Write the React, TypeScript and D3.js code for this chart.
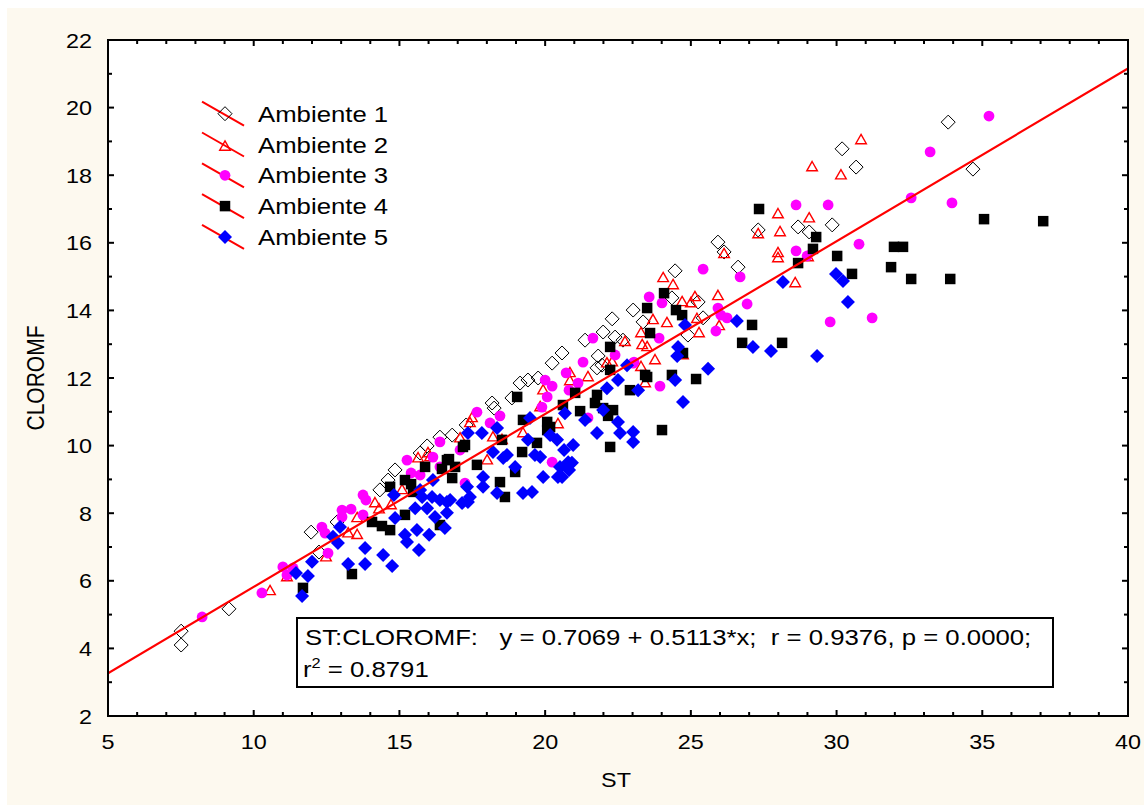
import React from "react";
import * as d3 from "d3";

const xTicks = [5, 10, 15, 20, 25, 30, 35, 40];
const yTicks = [2, 4, 6, 8, 10, 12, 14, 16, 18, 20, 22];
const legendLabels = ["Ambiente 1", "Ambiente 2", "Ambiente 3", "Ambiente 4", "Ambiente 5"];
const intercept = 0.7069;
const slope = 0.5113;

const ambiente1: [number, number][] = [
  [7.51, 4.51], [7.51, 4.1], [9.15, 5.17], [11.97, 7.44], [12.24, 6.85], [12.86, 7.74], [14.33, 8.69],
  [14.61, 8.98], [14.85, 9.28], [15.71, 9.78], [15.95, 9.99], [16.39, 10.25], [16.81, 10.31], [17.29, 10.61],
  [18.18, 11.26], [18.25, 11.11], [18.86, 11.41], [19.14, 11.85], [19.41, 11.94], [19.76, 12.0], [20.24, 12.44],
  [20.58, 12.74], [21.37, 13.12], [21.78, 12.3], [21.95, 12.38], [22.4, 13.21], [21.82, 12.65], [22.3, 13.75],
  [21.99, 13.36], [23.02, 14.01], [23.36, 13.66], [24.35, 14.37], [24.46, 15.17], [25.25, 14.25], [25.42, 13.78],
  [24.9, 13.27], [22.67, 13.12], [25.93, 16.02], [26.14, 15.73], [26.62, 15.28], [27.31, 16.38], [28.68, 16.47],
  [29.06, 16.32], [29.85, 16.53], [30.19, 18.78], [30.67, 18.24], [33.83, 19.57], [34.68, 18.18],
];

const ambiente2: [number, number][] = [
  [10.56, 5.7], [11.14, 6.11], [12.48, 6.7], [13.24, 7.41], [13.55, 7.36], [13.55, 7.86], [14.16, 8.3],
  [14.3, 8.12], [14.71, 8.24], [15.09, 8.69], [15.64, 9.63], [15.98, 9.78], [16.05, 9.66], [17.08, 10.22],
  [17.49, 10.82], [17.42, 10.67], [18.01, 9.57], [18.21, 10.25], [18.52, 10.17], [19.24, 10.37], [19.83, 11.14],
  [19.93, 11.64], [20.44, 10.64], [20.85, 12.15], [20.85, 11.91], [21.47, 12.03], [22.12, 12.44], [22.3, 12.47],
  [22.74, 13.07], [23.29, 13.33], [23.33, 12.98], [23.29, 12.33], [23.5, 12.92], [23.77, 12.53], [23.7, 13.72],
  [24.18, 13.63], [24.05, 14.96], [24.39, 14.75], [24.73, 12.68], [23.43, 11.85], [24.7, 14.25], [25.0, 14.22],
  [25.14, 14.4], [25.21, 13.75], [25.28, 13.33], [25.93, 14.43], [25.97, 13.54], [26.14, 15.67], [27.99, 15.7],
  [27.99, 15.55], [29.02, 15.58], [28.58, 14.81], [27.99, 16.85], [29.06, 16.73], [28.06, 16.32], [27.31, 16.26],
  [29.16, 18.24], [30.15, 18.0], [30.84, 19.04],
];

const ambiente3: [number, number][] = [
  [8.23, 4.93], [10.28, 5.64], [11.0, 6.41], [11.35, 6.38], [11.14, 6.17], [12.55, 6.82], [12.34, 7.59],
  [12.45, 7.41], [13.03, 8.09], [13.34, 8.12], [13.03, 7.89], [13.75, 8.54], [13.85, 8.39], [13.75, 7.95],
  [15.26, 9.57], [15.4, 9.19], [15.71, 9.13], [16.15, 9.66], [16.39, 10.11], [17.25, 8.89], [16.39, 9.37],
  [17.08, 9.87], [17.66, 10.99], [18.45, 10.88], [18.11, 10.67], [20.0, 11.94], [20.24, 11.76], [20.07, 11.44],
  [19.89, 11.14], [20.24, 9.51], [20.72, 12.15], [20.82, 11.64], [21.13, 11.85], [21.3, 12.47], [21.64, 13.18],
  [21.47, 10.82], [22.4, 12.68], [23.05, 12.47], [23.94, 11.76], [23.57, 14.4], [24.01, 14.22], [25.42, 15.22],
  [26.69, 14.99], [25.93, 14.07], [26.03, 13.86], [26.24, 13.78], [25.86, 13.39], [26.93, 14.19], [23.91, 13.18],
  [23.02, 12.44], [28.61, 15.76], [28.99, 15.61], [28.61, 17.12], [29.71, 17.12], [30.77, 15.96], [29.78, 13.66],
  [31.22, 13.78], [32.56, 17.33], [33.96, 17.18], [33.21, 18.69], [35.23, 19.75],
];

const ambiente4: [number, number][] = [
  [11.69, 5.79], [13.37, 6.2], [14.06, 7.74], [14.4, 7.62], [14.68, 7.5], [14.68, 8.78], [15.19, 8.98],
  [15.4, 8.86], [15.19, 7.95], [15.88, 9.37], [16.46, 9.31], [16.7, 9.6], [16.81, 9.04], [16.39, 7.65],
  [15.47, 8.63], [16.91, 9.37], [17.18, 9.96], [17.66, 9.43], [18.52, 10.17], [18.45, 8.92], [18.62, 8.48],
  [16.63, 9.57], [17.25, 10.02], [19.04, 11.44], [19.24, 10.76], [20.07, 10.7], [20.17, 10.55], [20.07, 10.46],
  [19.21, 9.81], [19.72, 10.08], [18.97, 9.22], [21.03, 11.56], [21.78, 11.5], [21.2, 11.02], [22.16, 10.88],
  [22.33, 11.05], [22.23, 9.96], [22.23, 12.92], [22.23, 12.24], [22.91, 11.64], [23.5, 12.03], [20.61, 11.2],
  [21.71, 11.26], [21.99, 11.11], [24.08, 14.51], [23.5, 14.07], [24.49, 14.01], [24.7, 13.86], [23.6, 13.33],
  [23.43, 12.09], [24.35, 12.09], [25.18, 11.97], [24.01, 10.46], [27.1, 13.57], [26.76, 13.04], [28.13, 13.04],
  [24.73, 12.74], [28.68, 15.4], [29.19, 15.82], [29.3, 16.17], [30.02, 15.61], [30.53, 15.08], [27.34, 17.0],
  [31.97, 15.88], [32.28, 15.88], [31.87, 15.28], [32.56, 14.93], [33.9, 14.93], [35.06, 16.7], [37.09, 16.64],
];

const ambiente5: [number, number][] = [
  [11.66, 5.55], [11.45, 6.23], [11.86, 6.14], [12.0, 6.56], [12.89, 7.12], [12.96, 7.59], [12.72, 7.3],
  [13.24, 6.5], [13.82, 6.5], [13.82, 6.97], [14.44, 6.76], [14.75, 6.44], [14.85, 7.86], [14.81, 8.54],
  [15.19, 7.36], [15.26, 7.15], [15.6, 7.5], [15.67, 6.91], [16.02, 7.36], [16.12, 8.48], [15.78, 8.48],
  [15.95, 8.15], [16.39, 8.39], [16.56, 7.56], [16.63, 8.01], [16.15, 8.98], [15.54, 8.15], [15.71, 8.69],
  [16.22, 7.89], [16.74, 8.39], [17.15, 8.3], [17.35, 8.33], [17.32, 8.78], [17.87, 8.78], [17.87, 9.07],
  [17.35, 10.37], [17.83, 10.37], [18.35, 10.52], [18.21, 9.81], [18.56, 9.63], [18.97, 9.37], [19.24, 8.6],
  [19.55, 8.63], [18.35, 8.6], [19.93, 9.07], [20.51, 9.37], [20.58, 9.07], [20.92, 9.49], [20.96, 10.02],
  [20.41, 10.17], [20.17, 10.31], [19.48, 10.82], [19.41, 10.17], [19.65, 9.72], [20.68, 10.96], [21.37, 10.76],
  [21.99, 11.05], [22.12, 11.7], [22.5, 11.94], [22.5, 10.7], [21.78, 10.37], [22.57, 10.37], [23.02, 10.4],
  [23.02, 10.11], [23.19, 11.64], [22.81, 12.38], [19.83, 9.66], [16.63, 8.33], [17.42, 8.48], [18.69, 9.72],
  [20.65, 9.87], [20.79, 9.51], [20.82, 9.28], [20.44, 9.07], [28.16, 14.84], [26.58, 13.69], [24.8, 13.57],
  [24.56, 12.92], [24.53, 12.65], [25.59, 12.27], [27.13, 12.92], [27.75, 12.8], [29.33, 12.65], [24.46, 11.94],
  [24.73, 11.29], [29.98, 15.08], [30.22, 14.87], [30.39, 14.25],
];

const W = 1144;
const H = 807;
const M = { left: 108, right: 1128, top: 40, bottom: 716 };
const SX = 1.17;
const FONT = "'Liberation Sans', Arial, sans-serif";

const x = d3.scaleLinear().domain([5, 40]).range([M.left, M.right]);
const y = d3.scaleLinear().domain([2, 22]).range([M.bottom, M.top]);

type Kind = 1 | 2 | 3 | 4 | 5;

function Marker({ kind, cx, cy }: { kind: Kind; cx: number; cy: number }) {
  if (kind === 1) {
    const r = 7;
    return (
      <path
        d={`M${cx},${cy - r}L${cx + r},${cy}L${cx},${cy + r}L${cx - r},${cy}Z`}
        fill="none"
        stroke="#000"
        strokeWidth={1}
      />
    );
  }
  if (kind === 2) {
    const w = 5.3;
    const h = 9.3;
    return (
      <path
        d={`M${cx},${cy - h * 0.6}L${cx + w},${cy + h * 0.4}L${cx - w},${cy + h * 0.4}Z`}
        fill="none"
        stroke="#ff0000"
        strokeWidth={1.4}
      />
    );
  }
  if (kind === 3) {
    return <circle cx={cx} cy={cy} r={5.4} fill="#ff00ff" />;
  }
  if (kind === 4) {
    const s = 10.5;
    return <rect x={cx - s / 2} y={cy - s / 2} width={s} height={s} fill="#000" />;
  }
  const r = 7;
  return (
    <path d={`M${cx},${cy - r}L${cx + r},${cy}L${cx},${cy + r}L${cx - r},${cy}Z`} fill="#0000ff" />
  );
}

function SText({
  x0,
  y0,
  size,
  anchor = "start",
  children,
}: {
  x0: number;
  y0: number;
  size: number;
  anchor?: "start" | "middle" | "end";
  children: React.ReactNode;
}) {
  return (
    <text
      transform={`translate(${x0},${y0}) scale(${SX},1)`}
      fontSize={size}
      fontFamily={FONT}
      textAnchor={anchor}
      fill="#000"
      style={{ whiteSpace: "pre" }}
    >
      {children}
    </text>
  );
}

export default function App() {
  const series: { kind: Kind; data: [number, number][] }[] = [
    { kind: 1, data: ambiente1 },
    { kind: 2, data: ambiente2 },
    { kind: 3, data: ambiente3 },
    { kind: 4, data: ambiente4 },
    { kind: 5, data: ambiente5 },
  ];

  const xMinor = d3.range(5, 41, 1);
  const yMinor = d3.range(2, 23, 1);
  const fitLine = d3
    .line<number>()
    .x((v) => x(v))
    .y((v) => y(intercept + slope * v));

  const legendTop = 113.7;
  const legendStep = 30.8;

  return (
    <svg
      width={W}
      height={H}
      style={{ position: "absolute", left: 0, top: 0 }}
      xmlns="http://www.w3.org/2000/svg"
    >
      <defs>
        <clipPath id="plotClip">
          <rect x={M.left} y={M.top} width={M.right - M.left} height={M.bottom - M.top} />
        </clipPath>
      </defs>
      <rect x={0} y={0} width={W} height={H} fill="#ffffff" />
      <rect x={7} y={8} width={W - 7} height={797} fill="#fdf9ef" />
      <rect x={M.left} y={M.top} width={M.right - M.left} height={M.bottom - M.top} fill="#ffffff" />

      {/* markers */}
      <g>
        {series.map((s) =>
          s.data.map((d, i) => <Marker key={`${s.kind}-${i}`} kind={s.kind} cx={x(d[0])} cy={y(d[1])} />)
        )}
      </g>

      {/* regression line */}
      <path
        d={fitLine([5, 40]) || ""}
        fill="none"
        stroke="#ff0000"
        strokeWidth={2.2}
        clipPath="url(#plotClip)"
      />

      {/* legend */}
      {legendLabels.map((lab, i) => {
        const cy = legendTop + i * legendStep;
        return (
          <g key={lab}>
            <line x1={202} y1={cy - 12} x2={244} y2={cy + 12} stroke="#ff0000" strokeWidth={2} />
            <Marker kind={(i + 1) as Kind} cx={225} cy={cy + (i === 1 ? 2 : 0)} />
            <SText x0={258} y0={cy + 8} size={22}>
              {lab}
            </SText>
          </g>
        );
      })}

      {/* stats box */}
      <rect x={297} y={618} width={756} height={69} fill="#ffffff" stroke="#000" strokeWidth={2} />
      <SText x0={305} y0={645} size={22}>
        {"ST:CLOROMF:   y = 0.7069 + 0.5113*x;  r = 0.9376, p = 0.0000;"}
      </SText>
      <text
        transform={`translate(303,677) scale(${SX},1)`}
        fontSize={22}
        fontFamily={FONT}
        fill="#000"
        style={{ whiteSpace: "pre" }}
      >
        r
        <tspan fontSize={14} dy={-9}>
          2
        </tspan>
        <tspan dy={9}>{" = 0.8791"}</tspan>
      </text>

      {/* frame */}
      <rect
        x={M.left}
        y={M.top}
        width={M.right - M.left}
        height={M.bottom - M.top}
        fill="none"
        stroke="#000"
        strokeWidth={2}
      />

      {/* ticks */}
      {xMinor.map((v) => {
        const len = v % 5 === 0 ? 6 : 4;
        return (
          <g key={`xt${v}`}>
            <line x1={x(v)} x2={x(v)} y1={M.bottom} y2={M.bottom - len} stroke="#000" strokeWidth={2} />
            <line x1={x(v)} x2={x(v)} y1={M.top} y2={M.top + len} stroke="#000" strokeWidth={2} />
          </g>
        );
      })}
      {yMinor.map((v) => {
        const len = v % 2 === 0 ? 6 : 4;
        return (
          <g key={`yt${v}`}>
            <line x1={M.left} x2={M.left + len} y1={y(v)} y2={y(v)} stroke="#000" strokeWidth={2} />
            <line x1={M.right} x2={M.right - len} y1={y(v)} y2={y(v)} stroke="#000" strokeWidth={2} />
          </g>
        );
      })}

      {/* tick labels */}
      {xTicks.map((v) => (
        <SText key={`xl${v}`} x0={x(v)} y0={749} size={20} anchor="middle">
          {v}
        </SText>
      ))}
      {yTicks.map((v) => (
        <SText key={`yl${v}`} x0={92} y0={y(v) + 7.5} size={20} anchor="end">
          {v}
        </SText>
      ))}

      {/* axis titles */}
      <SText x0={616} y0={787} size={20} anchor="middle">
        ST
      </SText>
      <text
        transform={`translate(44,378) rotate(-90) scale(1,${SX})`}
        fontSize={21}
        fontFamily={FONT}
        textAnchor="middle"
        fill="#000"
      >
        CLOROMF
      </text>
    </svg>
  );
}
